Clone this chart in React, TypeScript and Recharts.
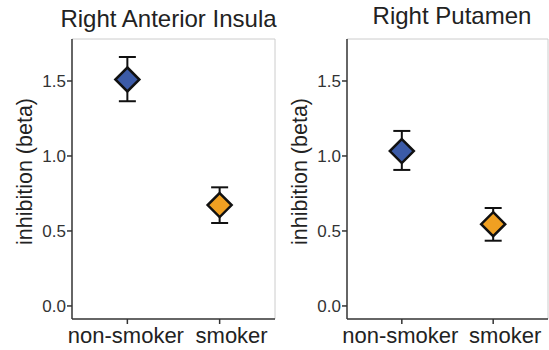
import { ScatterChart, Scatter, XAxis, YAxis, ErrorBar, ReferenceLine } from 'recharts'

const groups = ['non-smoker', 'smoker']
const groupPos = [1, 2]
const yTicks = [0, 0.5, 1, 1.5]

const insulaMean = [1.51, 0.673]
const insulaLow = [1.365, 0.553]
const insulaHigh = [1.66, 0.791]

const putamenMean = [1.033, 0.545]
const putamenLow = [0.907, 0.435]
const putamenHigh = [1.167, 0.653]

const groupFill: Record<string, string> = {
  'non-smoker': '#3c5ba7',
  smoker: '#f0a022',
}
// the labels in the original were nudged apart so they don't collide
const labelShift: Record<string, number> = {
  'non-smoker': -1.5,
  smoker: 12,
}

const FONT = '"Liberation Sans", Arial, sans-serif'
const X_DOMAIN = [0.4, 2.6]
const Y_DOMAIN = [-0.087, 1.78]

function buildRows(mean: number[], low: number[], high: number[]) {
  return groups.map((g, i) => ({
    group: g,
    x: groupPos[i],
    y: mean[i],
    err: [mean[i] - low[i], high[i] - mean[i]],
  }))
}

function Diamond(props: any) {
  const { cx, cy, payload } = props
  const r = 12
  return (
    <polygon
      points={`${cx},${cy - r} ${cx + r},${cy} ${cx},${cy + r} ${cx - r},${cy}`}
      fill={groupFill[payload.group]}
      stroke="#111"
      strokeWidth={2.5}
      strokeLinejoin="miter"
    />
  )
}

function GroupTick(props: any) {
  const { x, y, payload } = props
  const label = groups[payload.value - 1]
  return (
    <text
      x={x + (labelShift[label] || 0)}
      y={y + 15.5}
      textAnchor="middle"
      fontSize={22}
      fontFamily={FONT}
      fill="#222"
    >
      {label}
    </text>
  )
}

interface PanelProps {
  rows: ReturnType<typeof buildRows>
  width: number
  axisWidth: number
  rightMargin: number
}

function Panel({ rows, width, axisWidth, rightMargin }: PanelProps) {
  return (
    <ScatterChart width={width} height={350} margin={{ top: 39, right: rightMargin, bottom: 0, left: 0 }}>
      <XAxis
        type="number"
        dataKey="x"
        domain={X_DOMAIN}
        ticks={groupPos}
        interval={0}
        height={31}
        tickSize={5}
        tickMargin={3}
        axisLine={{ stroke: '#333', strokeWidth: 1.5 }}
        tickLine={{ stroke: '#333', strokeWidth: 1.5 }}
        tick={<GroupTick />}
      />
      <YAxis
        type="number"
        dataKey="y"
        domain={Y_DOMAIN}
        ticks={yTicks}
        interval={0}
        tickFormatter={(v: number) => v.toFixed(1)}
        width={axisWidth}
        tickSize={5}
        tickMargin={1}
        axisLine={{ stroke: '#333', strokeWidth: 1.5 }}
        tickLine={{ stroke: '#333', strokeWidth: 1.5 }}
        tick={{ fill: '#333', fontSize: 17, fontFamily: FONT }}
        label={{
          content: (p: any) => {
            const vb = p.viewBox
            const x = vb.x + vb.width - 40
            const y = vb.y + vb.height / 2 - 7.5
            return (
              <text
                x={x}
                y={y}
                transform={`rotate(-90, ${x}, ${y})`}
                textAnchor="middle"
                fontSize={21.5}
                fontFamily={FONT}
                fill="#222"
              >
                inhibition (beta)
              </text>
            )
          },
        }}
      />
      <ReferenceLine y={Y_DOMAIN[1]} stroke="#cccccc" strokeWidth={1} />
      <ReferenceLine x={X_DOMAIN[1]} stroke="#cccccc" strokeWidth={1} />
      <Scatter data={rows} dataKey="y" shape={Diamond} isAnimationActive={false}>
        <ErrorBar dataKey="err" direction="y" width={8.5} stroke="#111" strokeWidth={2} isAnimationActive={false} />
      </Scatter>
    </ScatterChart>
  )
}

export default function App() {
  const insula = buildRows(insulaMean, insulaLow, insulaHigh)
  const putamen = buildRows(putamenMean, putamenLow, putamenHigh)
  return (
    <div style={{ position: 'absolute', left: 0, top: 0, width: 549, height: 350, background: '#fff', fontFamily: FONT }}>
      <div style={{ position: 'absolute', left: 0, top: 0 }}>
        <Panel rows={insula} width={280} axisWidth={72} rightMargin={5} />
      </div>
      <div style={{ position: 'absolute', left: 280, top: 0 }}>
        <Panel rows={putamen} width={269} axisWidth={67} rightMargin={1} />
      </div>
      <svg width={549} height={40} style={{ position: 'absolute', left: 0, top: 0, pointerEvents: 'none' }}>
        <text x={168.5} y={27} textAnchor="middle" fontSize={24} fontFamily={FONT} fill="#222">
          Right Anterior Insula
        </text>
        <text x={452} y={24} textAnchor="middle" fontSize={24} fontFamily={FONT} fill="#222">
          Right Putamen
        </text>
      </svg>
    </div>
  )
}
